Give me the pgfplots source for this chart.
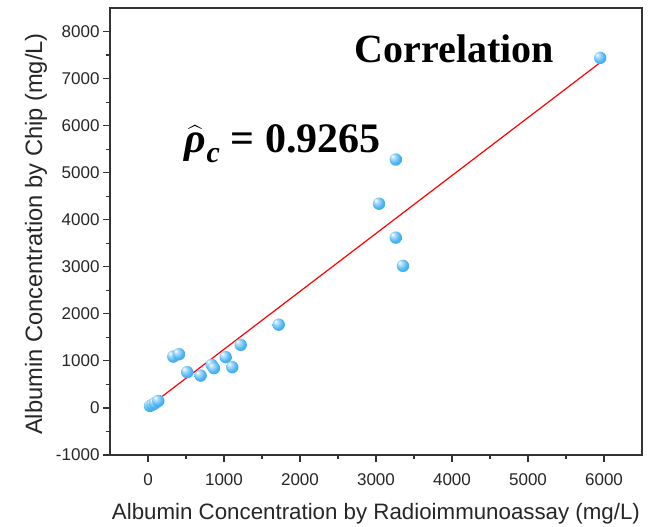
\documentclass[border=0pt]{standalone}
\usepackage{pgfplots}
\pgfplotsset{compat=1.18}
\usetikzlibrary{calc}
\usepackage{fontspec}
\usepackage{amsmath}
\setmainfont{Liberation Sans}
\newfontfamily\serifb{Liberation Serif}
\definecolor{ptblue}{RGB}{70,178,242}
\pgfdeclareradialshading{lball}{\pgfpoint{-14bp}{14bp}}{color(0bp)=(white); color(9bp)=(ptblue!45!white); color(24bp)=(ptblue); color(40bp)=(ptblue!92!black); color(50bp)=(ptblue!85!black)}
\pgfdeclareplotmark{lball}{\pgfpathcircle{\pgfpointorigin}{\pgfplotmarksize}\pgfshadepath{lball}{0}\pgfusepath{discard}}
\begin{document}
\begin{tikzpicture}
\begin{axis}[
  name=ax,
  scale only axis,
  width=532pt, height=447pt,
  xmin=-500, xmax=6500,
  ymin=-1000, ymax=8500,
  xtick={0,1000,...,6000},
  ytick={-1000,0,...,8000},
  minor x tick num=1,
  minor y tick num=1,
  tick align=outside,
  xtick pos=bottom, ytick pos=left,
  major tick length=7pt,
  minor tick length=4pt,
  axis line style={line width=1.3pt, black!80},
  every tick/.style={line width=1.2pt, black!80},
  scaled ticks=false,
  /pgf/number format/.cd, assume math mode=true, set thousands separator={},
  /pgfplots/.cd,
  ticklabel style={font=\fontsize{17}{19}\selectfont, color=black!85},
  xticklabel style={anchor=base, yshift=-23pt},
  xlabel={Albumin Concentration by Radioimmunoassay (mg/L)},
  ylabel={Albumin Concentration by Chip (mg/L)},
  xlabel style={font=\fontsize{22.3}{25}\selectfont, color=black!85, at={(axis description cs:0.5,-0.1454)}, anchor=base},
  ylabel style={font=\fontsize{23.7}{26}\selectfont, color=black!85, at={(axis description cs:-0.1278,0.4944)}, anchor=base, rotate=0},
  clip=false,
]
\addplot[red, line width=1.2pt] coordinates {(20,40) (5950,7340)};
\addplot[only marks, mark=lball, mark size=6.2pt] coordinates {
(26,43) (60,70) (92,100) (136,149)
(333,1091) (408,1143)
(517,760) (693,687) (838,915) (868,845)
(1022,1079) (1109,866) (1220,1340)
(1720,1770)
(3040,4340) (3260,5280) (3260,3620) (3355,3020)
(5950,7440)
};
\node[font=\serifb\bfseries\fontsize{40}{44}\selectfont] at (axis cs:4030,7640) {Correlation};
\node[font=\serifb\bfseries\fontsize{42}{46}\selectfont] at (axis cs:1775,5620) {$\widehat{\mbox{\serifb\bfseries\itshape\fontsize{42}{46}\selectfont ρ}}_{\mbox{\serifb\bfseries\itshape\fontsize{30}{32}\selectfont c}}$ = 0.9265};
\end{axis}
\pgfresetboundingbox
\path ($(ax.south west)+(-110pt,-71pt)$) rectangle ($(ax.north east)+(12pt,8pt)$);
\end{tikzpicture}
\end{document}
